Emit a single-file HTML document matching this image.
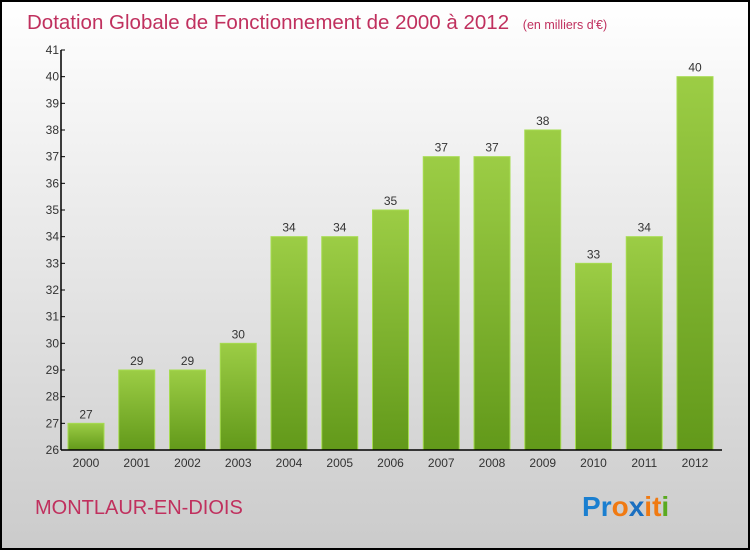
<!DOCTYPE html>
<html><head><meta charset="utf-8"><style>
html,body{margin:0;padding:0}
body{width:750px;height:550px;overflow:hidden;font-family:"Liberation Sans",sans-serif}
</style></head><body>
<svg id="c" width="750" height="550" xmlns="http://www.w3.org/2000/svg">
<defs>
<linearGradient id="bg" x1="0" y1="0" x2="0" y2="1"><stop offset="0" stop-color="#ffffff"/><stop offset="1" stop-color="#cbcbcb"/></linearGradient>
<linearGradient id="bar" x1="0" y1="0" x2="0" y2="1"><stop offset="0" stop-color="#9ccd45"/><stop offset="1" stop-color="#62991a"/></linearGradient>
</defs>
<rect x="1" y="1" width="748" height="548" fill="url(#bg)" stroke="#000" stroke-width="2"/>
<text x="27" y="29" font-size="20.5" fill="#c0305e">Dotation Globale de Fonctionnement de 2000 à 2012 <tspan font-size="12.5" dx="8">(en milliers d'€)</tspan></text>
<text x="35" y="514" font-size="20" fill="#c0305e">MONTLAUR-EN-DIOIS</text>
<text x="582" y="516" font-size="28" font-weight="bold"><tspan fill="#1a7fd0">P</tspan><tspan fill="#1a7fd0">r</tspan><tspan fill="#f07a12">o</tspan><tspan fill="#1a6fc0">x</tspan><tspan fill="#f07a12">i</tspan><tspan fill="#f07a12">t</tspan><tspan fill="#5aaa20">i</tspan></text>
<g id="plot"></g>
</svg>
<script>
const years=["2000","2001","2002","2003","2004","2005","2006","2007","2008","2009","2010","2011","2012"];
const values=[27,29,29,30,34,34,35,37,37,38,33,34,40];
const yTicks=[26,27,28,29,30,31,32,33,34,35,36,37,38,39,40,41];
const NS="http://www.w3.org/2000/svg";
const g=document.getElementById('plot');
const x0=61,x1=722,yBot=450,yTop=50,yMin=26,yMax=41;
const y=v=>yBot-(v-yMin)/(yMax-yMin)*(yBot-yTop);
const step=50.75,first=86,bw=36;
const xc=i=>first+i*step;
function mk(t,a){const e=document.createElementNS(NS,t);for(const k in a)e.setAttribute(k,a[k]);g.appendChild(e);return e;}
values.forEach((v,i)=>{
 const r=mk('rect',{x:xc(i)-bw/2,y:y(v),width:bw,height:yBot-y(v),fill:'url(#bar)',stroke:'#a6dc50','stroke-width':1});
 
 
 const t=mk('text',{x:xc(i),y:y(v)-5,'text-anchor':'middle','font-size':12,fill:'#333'});
 t.textContent=v;
 
 
 const xl=mk('text',{x:xc(i),y:467,'text-anchor':'middle','font-size':12,fill:'#333'});
 xl.textContent=years[i];
 
 
});
yTicks.forEach(v=>{
 const l=mk('line',{x1:x0,x2:x0+4,y1:y(v),y2:y(v),stroke:'#000'});
 
 
 const t=mk('text',{x:x0-2,y:y(v)+4,'text-anchor':'end','font-size':12,fill:'#333'});
 t.textContent=v;
 
 
});
const ya=mk('line',{x1:x0,x2:x0,y1:yTop,y2:yBot,stroke:'#000','stroke-width':1.5});


const xa=mk('line',{x1:x0,x2:x1,y1:yBot,y2:yBot,stroke:'#000','stroke-width':1.5});


</script>
</body></html>
